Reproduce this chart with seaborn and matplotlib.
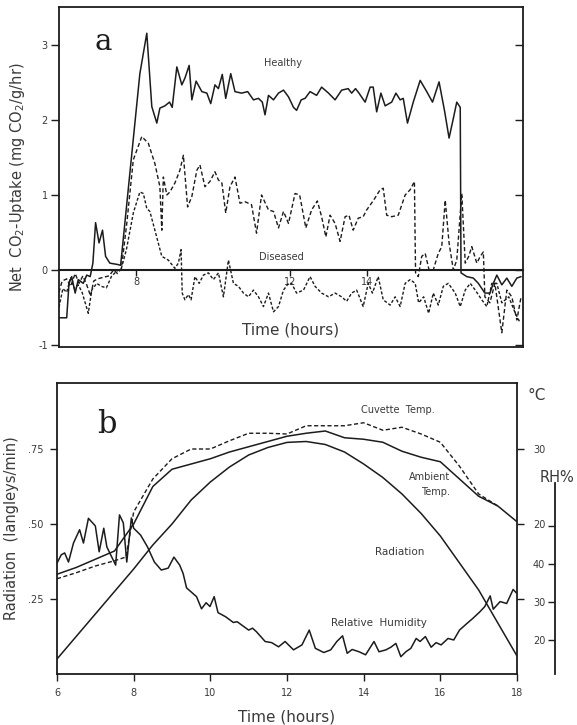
import matplotlib
matplotlib.use("Agg")
import matplotlib.pyplot as plt
import seaborn as sns
import numpy as np

# ---------------- Panel a data: Net CO2 uptake ----------------
t_healthy = [6.0, 6.2, 6.26, 6.33, 6.42, 6.5, 6.63, 6.72, 6.81, 6.88, 6.95, 7.04, 7.13, 7.21,
             7.32, 7.54, 7.6, 8.1, 8.28, 8.41, 8.54, 8.62, 8.75, 8.87, 8.94, 9.06, 9.19, 9.27,
             9.38, 9.45, 9.56, 9.71, 9.84, 9.94, 10.05, 10.14, 10.24, 10.33, 10.46, 10.57,
             10.74, 10.9, 11.05, 11.18, 11.28, 11.35, 11.44, 11.57, 11.7, 11.83, 11.96, 12.09,
             12.17, 12.29, 12.39, 12.52, 12.69, 12.82, 13.0, 13.17, 13.34, 13.51, 13.6, 13.7,
             13.79, 13.95, 14.08, 14.16, 14.25, 14.36, 14.47, 14.64, 14.75, 14.86, 14.94,
             15.05, 15.2, 15.38, 15.55, 15.7, 15.87, 16.01, 16.13, 16.24, 16.33, 16.42, 16.44,
             16.59, 16.76, 16.89, 17.06, 17.19, 17.28, 17.37, 17.5, 17.63, 17.76, 17.89, 18.0]
v_healthy = [-0.64, -0.64, -0.18, -0.09, -0.31, -0.13, -0.18, -0.07, -0.09, 0.09, 0.63, 0.36,
             0.53, 0.18, 0.09, 0.07, 0.06, 2.62, 3.16, 2.18, 1.96, 2.16, 2.19, 2.24, 2.17,
             2.71, 2.47, 2.56, 2.73, 2.27, 2.52, 2.38, 2.36, 2.22, 2.47, 2.42, 2.61, 2.29,
             2.62, 2.38, 2.36, 2.38, 2.27, 2.29, 2.24, 2.07, 2.33, 2.27, 2.36, 2.40, 2.31,
             2.17, 2.13, 2.27, 2.29, 2.38, 2.33, 2.44, 2.36, 2.27, 2.40, 2.42, 2.36, 2.42,
             2.36, 2.24, 2.44, 2.44, 2.11, 2.36, 2.19, 2.24, 2.36, 2.27, 2.29, 1.96, 2.24,
             2.53, 2.38, 2.24, 2.51, 2.13, 1.76, 2.02, 2.24, 2.17, -0.04, -0.09, -0.11,
             -0.18, -0.31, -0.31, -0.18, -0.07, -0.20, -0.11, -0.22, -0.11, -0.09]

t_diseased_1 = [6.0, 6.08, 6.2, 6.3, 6.42, 6.52, 6.62, 6.72, 6.82, 6.9, 7.0, 7.15, 7.3, 7.42,
                7.52, 7.62, 7.76, 7.93, 8.15, 8.32, 8.49, 8.62, 8.67, 8.71, 8.8, 8.88, 9.01,
                9.14, 9.23, 9.34, 9.45, 9.58, 9.66, 9.79, 9.92, 10.05, 10.14, 10.23, 10.33,
                10.44, 10.57, 10.7, 10.83, 11.0, 11.13, 11.26, 11.44, 11.57, 11.7, 11.83,
                11.96, 12.13, 12.25, 12.41, 12.56, 12.71, 12.82, 12.93, 13.04, 13.17, 13.3,
                13.43, 13.53, 13.64, 13.77, 13.9, 13.99, 14.17, 14.34, 14.42, 14.51, 14.64,
                14.81, 14.99, 15.12, 15.23, 15.26, 15.33, 15.42, 15.51, 15.61, 15.72, 15.85,
                15.94, 16.03, 16.13, 16.24, 16.33, 16.46, 16.55, 16.64, 16.72, 16.85, 16.94,
                17.02, 17.06, 17.19, 17.32, 17.5, 17.63, 17.76, 17.89, 18.0]
v_diseased_1 = [-0.30, -0.15, -0.12, -0.22, -0.05, -0.18, -0.08, -0.20, -0.35, -0.15, -0.12,
                -0.10, -0.08, 0.0, -0.05, 0.02, 0.62, 1.47, 1.78, 1.69, 1.42, 1.11, 0.53,
                1.24, 1.00, 1.04, 1.16, 1.33, 1.53, 0.84, 0.98, 1.33, 1.40, 1.11, 1.18, 1.31,
                1.20, 1.16, 0.76, 1.11, 1.24, 0.89, 0.91, 0.87, 0.49, 1.00, 0.80, 0.78, 0.56,
                0.78, 0.62, 1.02, 1.00, 0.56, 0.80, 0.92, 0.71, 0.44, 0.73, 0.62, 0.38, 0.71,
                0.73, 0.53, 0.69, 0.71, 0.80, 0.93, 1.07, 1.09, 0.73, 0.71, 0.73, 1.00, 1.07,
                1.18, -0.04, -0.09, 0.18, 0.22, 0.0, 0.0, 0.22, 0.31, 0.93, 0.36, 0.0, 0.13,
                1.02, 0.09, 0.18, 0.31, 0.09, 0.18, 0.24, -0.36, -0.44, -0.18, -0.84, -0.27,
                -0.36, -0.67, -0.36]

t_diseased_2 = [6.0, 6.1, 6.2, 6.3, 6.4, 6.5, 6.6, 6.76, 6.85, 6.98, 7.1, 7.23, 7.36, 7.49,
                7.62, 7.75, 7.93, 8.1, 8.19, 8.28, 8.36, 8.49, 8.67, 8.84, 9.01, 9.1, 9.17,
                9.2, 9.27, 9.36, 9.43, 9.53, 9.64, 9.75, 9.88, 10.01, 10.14, 10.27, 10.4,
                10.53, 10.66, 10.79, 10.92, 11.05, 11.18, 11.31, 11.44, 11.57, 11.7, 11.83,
                11.96, 12.04, 12.17, 12.35, 12.52, 12.65, 12.82, 13.0, 13.17, 13.34, 13.47,
                13.6, 13.73, 13.9, 14.03, 14.14, 14.29, 14.42, 14.6, 14.73, 14.86, 14.99,
                15.12, 15.25, 15.34, 15.47, 15.6, 15.72, 15.85, 15.98, 16.11, 16.29, 16.42,
                16.55, 16.68, 16.81, 16.98, 17.11, 17.24, 17.37, 17.5, 17.68, 17.85, 17.98]
v_diseased_2 = [-0.50, -0.25, -0.30, -0.10, -0.25, -0.20, -0.30, -0.58, -0.27, -0.18, -0.22,
                -0.24, -0.09, -0.02, 0.02, 0.27, 0.76, 1.04, 1.02, 0.82, 0.78, 0.53, 0.18,
                0.13, 0.02, 0.09, 0.27, -0.31, -0.40, -0.33, -0.40, -0.09, -0.18, -0.07,
                -0.04, -0.13, -0.04, -0.36, 0.13, -0.18, -0.22, -0.31, -0.36, -0.27, -0.36,
                -0.49, -0.31, -0.56, -0.49, -0.27, -0.18, -0.18, -0.31, -0.27, -0.09, -0.22,
                -0.31, -0.36, -0.31, -0.36, -0.42, -0.31, -0.27, -0.49, -0.18, -0.31, -0.09,
                -0.40, -0.47, -0.36, -0.49, -0.18, -0.13, -0.18, -0.44, -0.36, -0.58, -0.31,
                -0.47, -0.22, -0.18, -0.31, -0.49, -0.27, -0.18, -0.27, -0.40, -0.49, -0.18,
                -0.18, -0.44, -0.36, -0.58, -0.71]

a_yticks = [-1, 0, 1, 2, 3]
a_yticklabels = ["-1", "0", "1", "2", "3"]
a_time_ticks = [8, 12, 14]
a_time_labels = ["8", "12", "14"]

# ---------------- Panel b data ----------------
t_b = [6.0, 6.5, 7.0, 7.5, 8.0, 8.5, 9.0, 9.5, 10.0, 10.5, 11.0, 11.5, 12.0, 12.5, 13.0,
       13.5, 14.0, 14.5, 15.0, 15.5, 16.0, 16.5, 17.0, 17.5, 18.0]
radiation = [0.05, 0.125, 0.20, 0.275, 0.35, 0.43, 0.50, 0.58, 0.64, 0.69, 0.73, 0.755,
             0.772, 0.775, 0.765, 0.74, 0.70, 0.655, 0.60, 0.535, 0.46, 0.37, 0.28, 0.17, 0.06]
ambient_temp = [13.3, 14.2, 15.3, 16.4, 20.0, 25.0, 27.3, 28.0, 28.7, 29.6, 30.3, 31.0, 31.7,
                32.1, 32.4, 31.5, 31.3, 30.9, 29.7, 28.9, 28.3, 26.0, 23.7, 22.4, 20.3]
t_cuvette = [6.0, 6.5, 7.0, 7.5, 7.8, 8.0, 8.5, 9.0, 9.5, 10.0, 10.5, 11.0, 11.5, 12.0, 12.5,
             13.0, 13.5, 14.0, 14.5, 15.0, 15.5, 16.0, 16.5, 17.0, 17.5]
cuvette_temp = [12.7, 13.5, 14.4, 15.1, 15.6, 21.6, 26.0, 28.7, 30.0, 30.0, 31.1, 32.1, 32.1,
                32.0, 33.1, 33.1, 33.1, 33.5, 32.5, 32.9, 32.0, 30.9, 27.7, 24.0, 22.4]

t_rh = [6.0, 6.11, 6.2, 6.3, 6.43, 6.59, 6.69, 6.82, 7.0, 7.1, 7.22, 7.3, 7.53, 7.63, 7.73,
        7.82, 7.94, 8.0, 8.18, 8.36, 8.54, 8.72, 8.9, 9.05, 9.2, 9.29, 9.38, 9.64, 9.77, 9.89,
        9.99, 10.1, 10.2, 10.4, 10.6, 10.7, 11.0, 11.1, 11.2, 11.43, 11.6, 11.78, 11.95,
        12.17, 12.39, 12.58, 12.74, 12.96, 13.14, 13.3, 13.45, 13.57, 13.7, 13.88, 14.05,
        14.27, 14.4, 14.58, 14.71, 14.84, 14.97, 15.1, 15.23, 15.37, 15.47, 15.61, 15.76,
        15.89, 16.02, 16.2, 16.35, 16.5, 16.7, 16.85, 17.03, 17.16, 17.3, 17.38, 17.56, 17.73,
        17.9, 17.99]
rel_humidity = [40.2, 42.4, 42.9, 40.5, 45.5, 49.0, 45.5, 52.0, 50.0, 43.2, 49.4, 44.5, 39.7,
                52.9, 50.8, 40.5, 52.1, 49.4, 47.6, 44.5, 40.5, 38.4, 38.9, 41.8, 39.7, 37.5,
                33.7, 31.4, 28.2, 29.8, 28.8, 31.4, 27.2, 26.1, 24.6, 24.8, 22.6, 23.1, 22.2,
                19.6, 19.3, 18.2, 19.6, 17.4, 18.7, 22.6, 17.8, 16.7, 17.4, 19.6, 21.1, 16.5,
                17.5, 16.9, 16.1, 19.6, 16.9, 17.4, 18.1, 19.1, 15.6, 16.9, 17.8, 20.4, 19.6,
                20.9, 18.1, 19.3, 18.7, 20.4, 20.0, 22.6, 24.4, 25.7, 27.4, 28.8, 31.6, 28.1,
                30.1, 29.6, 33.3, 32.3]

b_xticks = [6, 8, 10, 12, 14, 16, 18]
b_yticks = [0.25, 0.50, 0.75]
b_yticklabels = [".25", ".50", ".75"]
c_ticks = [10, 20, 30]
c_ticklabels = ["", "20", "30"]
rh_ticks = [50, 40, 30, 20]
rh_ticklabels = ["", "40", "30", "20"]

# ---------------- Figure ----------------
sns.set_theme(style="white")
plt.rcParams["font.family"] = ["DejaVu Sans"]
INK = "#1c1c1c"
TXT = "#3a3a3a"

W, H = 577, 725
fig = plt.figure(figsize=(W / 100, H / 100), dpi=100)
fig.patch.set_facecolor("white")


def frac(l, t, r, b):
    return [l / W, 1 - b / H, (r - l) / W, (b - t) / H]


# ---------- panel a ----------
axa = fig.add_axes(frac(59, 7, 523, 347))
sns.lineplot(x=t_healthy, y=v_healthy, ax=axa, color=INK, lw=1.1, sort=False, estimator=None)
sns.lineplot(x=t_diseased_1, y=v_diseased_1, ax=axa, color=INK, lw=1.0, sort=False,
             estimator=None, linestyle=(0, (3.0, 1.8)))
sns.lineplot(x=t_diseased_2, y=v_diseased_2, ax=axa, color=INK, lw=1.0, sort=False,
             estimator=None, linestyle=(0, (2.2, 1.4)))
axa.set_xlim(6, 18.05)
axa.set_ylim(-1.03, 3.51)
axa.set_xticks([])
axa.set_yticks(a_yticks)
axa.set_yticklabels(a_yticklabels)
axa.tick_params(axis="y", direction="out", length=6, width=1, colors=INK, labelsize=7,
                labelcolor=TXT, left=True, pad=2)
for s in axa.spines.values():
    s.set_color(INK)
    s.set_linewidth(1.3)
axa.set_ylabel(r"Net  CO$_2$-Uptake (mg CO$_2$/g/hr)", fontsize=10.5, color=TXT, labelpad=8)

# inward ticks on right side
sec_r = axa.secondary_yaxis("right")
sec_r.set_yticks(a_yticks)
sec_r.set_yticklabels([])
sec_r.tick_params(direction="in", length=6, width=1, colors=INK)
sec_r.spines["right"].set_visible(False)

# zero line axis with time ticks
sec_x = axa.secondary_xaxis(0, transform=axa.transData)
sec_x.set_xticks(a_time_ticks)
sec_x.set_xticklabels(a_time_labels)
sec_x.tick_params(direction="out", length=4, width=1, colors=INK, labelsize=7,
                  labelcolor=TXT, pad=1)
sec_x.spines["bottom"].set_linewidth(1.5)
sec_x.spines["bottom"].set_color(INK)

axa.text(0.5, 0.05, "Time (hours)", transform=axa.transAxes, ha="center", va="center",
         fontsize=11, color=TXT)
axa.text(7.14, 3.04, "a", fontsize=21, family="DejaVu Serif", color=INK, ha="center",
         va="center")
axa.text(11.82, 2.76, "Healthy", fontsize=7, color=TXT, ha="center", va="center")
axa.text(11.77, 0.17, "Diseased", fontsize=7, color=TXT, ha="center", va="center")

# ---------- panel b ----------
axb = fig.add_axes(frac(57, 383, 517, 674))
sns.lineplot(x=t_b, y=radiation, ax=axb, color=INK, lw=1.1, sort=False, estimator=None)
axb.set_xlim(6, 18)
axb.set_ylim(0, 0.97)
axb.set_xticks(b_xticks)
axb.set_xticklabels([str(v) for v in b_xticks])
axb.set_yticks(b_yticks)
axb.set_yticklabels(b_yticklabels)
axb.tick_params(direction="out", length=5, width=1, colors=INK, labelsize=7,
                labelcolor=TXT, left=True, bottom=True, pad=5)
for s in axb.spines.values():
    s.set_color(INK)
    s.set_linewidth(1.3)
axb.set_xlabel("Time (hours)", fontsize=11, color=TXT, labelpad=8)
axb.set_ylabel("Radiation  (langleys/min)", fontsize=10.5, color=TXT, labelpad=6)

axc = axb.twinx()
sns.lineplot(x=t_b, y=ambient_temp, ax=axc, color=INK, lw=1.1, sort=False, estimator=None)
sns.lineplot(x=t_cuvette, y=cuvette_temp, ax=axc, color=INK, lw=1.0, sort=False,
             estimator=None, linestyle=(0, (3.0, 1.8)))
axc.set_ylim(0, 0.97 * 40)
axc.set_yticks(c_ticks)
axc.set_yticklabels(c_ticklabels)
axc.tick_params(direction="out", length=5, width=1, colors=INK, labelsize=7,
                labelcolor=TXT, right=True, pad=7)
for s in axc.spines.values():
    s.set_visible(False)
axc.set_ylabel("")

axr = axb.twinx()
sns.lineplot(x=t_rh, y=rel_humidity, ax=axr, color=INK, lw=1.1, sort=False, estimator=None)
axr.set_ylim(11.05, 87.6)
for k in ["top", "bottom", "right"]:
    axr.spines[k].set_visible(False)
axr.yaxis.set_ticks_position("left")
axr.yaxis.set_label_position("left")
axr.spines["left"].set_visible(True)
axr.spines["left"].set_position(("axes", (555 - 57) / 460))
axr.spines["left"].set_bounds(11.05, 61.3)
axr.spines["left"].set_color(INK)
axr.spines["left"].set_linewidth(1.3)
axr.set_yticks(rh_ticks)
axr.set_yticklabels(rh_ticklabels)
axr.tick_params(direction="out", length=5, width=1, colors=INK, labelsize=7,
                labelcolor=TXT, pad=2)
axr.set_ylabel("")

axb.text(7.3, 0.833, "b", fontsize=22, family="DejaVu Serif", color=INK, ha="center",
         va="center")
axb.text(14.88, 0.88, "Cuvette  Temp.", fontsize=7, color=TXT, ha="center", va="center")
axb.text(16.26, 0.657, "Ambient", fontsize=7, color=TXT, ha="right", va="center")
axb.text(16.26, 0.607, "Temp.", fontsize=7, color=TXT, ha="right", va="center")
axb.text(14.93, 0.407, "Radiation", fontsize=7.5, color=TXT, ha="center", va="center")
axb.text(14.4, 0.17, "Relative  Humidity", fontsize=7.5, color=TXT, ha="center", va="center")

fig.text(537 / W, 1 - 395 / H, "°C", fontsize=11, color=TXT, ha="center", va="center")
fig.text(557 / W, 1 - 477 / H, "RH%", fontsize=10.5, color=TXT, ha="center", va="center")

fig.savefig("out.png", dpi=100, facecolor="white")
